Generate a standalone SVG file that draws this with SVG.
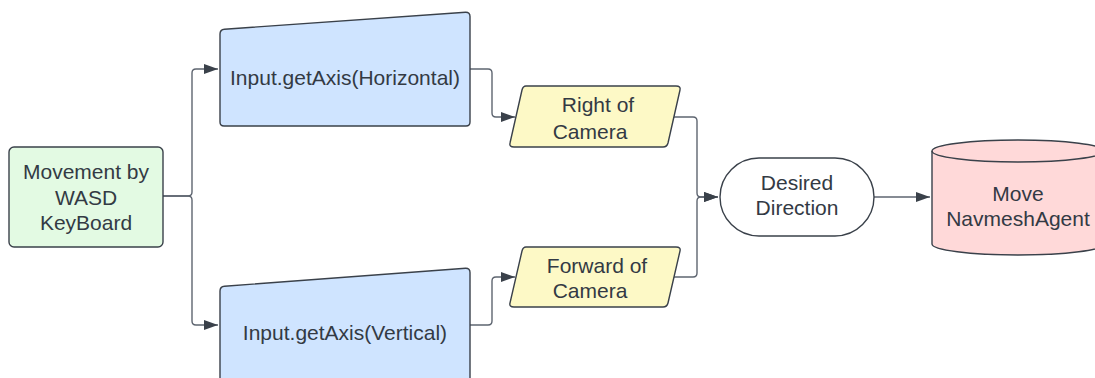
<svg xmlns="http://www.w3.org/2000/svg" width="1095" height="378" viewBox="0 0 1095 378">
  <style>
    .shape { stroke: #3a414a; stroke-width: 1.4; stroke-linejoin: round; }
    .green { fill: #e3fae3; }
    .blue { fill: #cfe4ff; }
    .yellow { fill: #fdf9c6; }
    .white { fill: #ffffff; }
    .pink { fill: #ffd9d9; }
    .label { font-family: "Liberation Sans", Arial, sans-serif; font-size: 21px; fill: #333a44; text-anchor: middle; dominant-baseline: central; }
    .wire { fill: none; stroke: #5e6570; stroke-width: 1.4; }
  </style>
  <defs>
    <marker id="arrow" viewBox="0 0 14 10" refX="14" refY="5" markerWidth="14" markerHeight="10" markerUnits="userSpaceOnUse" orient="auto">
      <path d="M0,0 L14,5 L0,10 Z" fill="#3a414a"/>
    </marker>
  </defs>

  <rect width="1095" height="378" fill="#ffffff"/>

  <g id="connectors">
    <path class="wire" d="M163,196 H188 Q192,196 192,192 V73 Q192,69 196,69 H218" marker-end="url(#arrow)"/>
    <path class="wire" d="M163,196 H188 Q192,196 192,200 V321 Q192,325 196,325 H218" marker-end="url(#arrow)"/>
    <path class="wire" d="M470,69 H488 Q492,69 492,73 V113 Q492,117 496,117 H515" marker-end="url(#arrow)"/>
    <path class="wire" d="M470,325 H488 Q492,325 492,321 V281 Q492,277 496,277 H515" marker-end="url(#arrow)"/>
    <path class="wire" d="M673,117 H693 Q697,117 697,121 V193 Q697,197 701,197 H718" marker-end="url(#arrow)"/>
    <path class="wire" d="M673,277 H693 Q697,277 697,273 V201 Q697,197 701,197 H718" marker-end="url(#arrow)"/>
    <path class="wire" d="M874,197 H930" marker-end="url(#arrow)"/>
  </g>

  <g id="movement-input">
    <rect class="shape green" x="9" y="147" width="154" height="100" rx="5"/>
    <text class="label" x="86" y="171">Movement by</text>
    <text class="label" x="86" y="197">WASD</text>
    <text class="label" x="86" y="222">KeyBoard</text>
  </g>

  <g id="axis-horizontal">
    <path class="shape blue" d="M220,34 Q220,29.5 224.5,29.2 L465.5,12.2 Q470,12 470,16.5 V122 Q470,126 466,126 H224 Q220,126 220,122 Z"/>
    <text class="label" x="345" y="77">Input.getAxis(Horizontal)</text>
  </g>

  <g id="axis-vertical">
    <path class="shape blue" d="M220,291 Q220,286.5 224.5,286.2 L465.5,268.2 Q470,268 470,272.5 V385 H220 Z"/>
    <text class="label" x="345" y="332">Input.getAxis(Vertical)</text>
  </g>

  <g id="camera-right">
    <path class="shape yellow" d="M526,86 H676 Q681,86 680,90 L668,143 Q667,147 663,147 H514 Q509,147 510,143 L522,90 Q523,86 526,86 Z"/>
    <text class="label" x="598" y="104">Right of</text>
    <text class="label" x="590" y="131">Camera</text>
  </g>

  <g id="camera-forward">
    <path class="shape yellow" d="M526,247 H676 Q681,247 680,251 L668,303 Q667,307 663,307 H514 Q509,307 510,303 L522,251 Q523,247 526,247 Z"/>
    <text class="label" x="597" y="265">Forward of</text>
    <text class="label" x="590" y="290">Camera</text>
  </g>

  <g id="desired-direction">
    <rect class="shape white" x="720" y="158" width="154" height="78" rx="39"/>
    <text class="label" x="797" y="182">Desired</text>
    <text class="label" x="797" y="207">Direction</text>
  </g>

  <g id="navmesh-agent">
    <path class="shape pink" d="M932,151 A86,11 0 0 1 1104,151 V244 A86,11 0 0 1 932,244 Z"/>
    <path class="shape" fill="none" d="M932,151 A86,11 0 0 0 1104,151"/>
    <text class="label" x="1018" y="193">Move</text>
    <text class="label" x="1018" y="218">NavmeshAgent</text>
  </g>
</svg>
